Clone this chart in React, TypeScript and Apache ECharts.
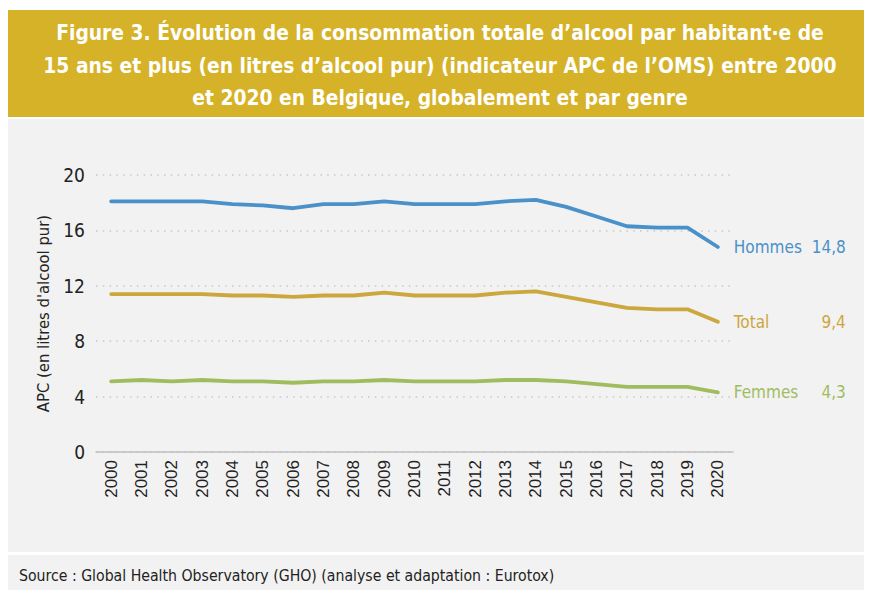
import React, { useEffect, useRef } from "react";
import * as echarts from "echarts";

const years = ["2000","2001","2002","2003","2004","2005","2006","2007","2008","2009","2010","2011","2012","2013","2014","2015","2016","2017","2018","2019","2020"];
const hommes = [18.1,18.1,18.1,18.1,17.9,17.8,17.6,17.9,17.9,18.1,17.9,17.9,17.9,18.1,18.2,17.7,17.0,16.3,16.2,16.2,14.8];
const total = [11.4,11.4,11.4,11.4,11.3,11.3,11.2,11.3,11.3,11.5,11.3,11.3,11.3,11.5,11.6,11.2,10.8,10.4,10.3,10.3,9.4];
const femmes = [5.1,5.2,5.1,5.2,5.1,5.1,5.0,5.1,5.1,5.2,5.1,5.1,5.1,5.2,5.2,5.1,4.9,4.7,4.7,4.7,4.3];
const seriesNames = ["Hommes", "Total", "Femmes"];
const seriesColors = ["#4A91C9", "#CBA73E", "#9FBD5E"];

const titleText = "Figure 3. Évolution de la consommation totale d’alcool par habitant·e de\n15 ans et plus (en litres d’alcool pur) (indicateur APC de l’OMS) entre 2000\net 2020 en Belgique, globalement et par genre";
const sourceText = "Source : Global Health Observatory (GHO) (analyse et adaptation : Eurotox)";
const yAxisName = "APC (en litres d'alcool pur)";

const NARROW = "'Liberation Sans Narrow', 'DejaVu Sans Condensed', sans-serif";
const fmt = (v: number) => v.toFixed(1).replace(".", ",");

export default function App() {
  const ref = useRef<HTMLDivElement>(null);
  useEffect(() => {
    if (!ref.current) return;
    const chart = echarts.init(ref.current, null, { renderer: "svg" });
    const data = [hommes, total, femmes];
    chart.setOption({
      animation: false,
      backgroundColor: "#ffffff",
      graphic: [
        { type: "rect", z: -10, shape: { x: 0, y: 2, width: 864, height: 107 }, style: { fill: "#D5B227" } },
        { type: "rect", z: -10, shape: { x: 0, y: 111, width: 864, height: 433 }, style: { fill: "#F2F2F2" } },
        { type: "rect", z: -10, shape: { x: 0, y: 547, width: 864, height: 35 }, style: { fill: "#F2F2F2" } },
      ],
      title: [
        {
          text: titleText,
          left: "center",
          top: 4,
          textStyle: { color: "#ffffff", fontSize: 20.8, fontWeight: "bold", fontFamily: NARROW, lineHeight: 32.5 },
        },
        {
          text: sourceText,
          left: 6,
          top: 554,
          textStyle: { color: "#222222", fontSize: 15.7, fontWeight: "normal", fontFamily: NARROW },
        },
      ],
      grid: { left: 88, right: 139, top: 167, bottom: 138 },
      xAxis: {
        type: "category",
        data: years,
        boundaryGap: true,
        axisLine: { lineStyle: { color: "#BFBFBF", width: 1.5 } },
        axisTick: { show: false },
        axisLabel: { rotate: 90, color: "#222222", fontSize: 17, fontFamily: "'Liberation Sans', Arial, sans-serif", margin: 8, interval: 0 },
      },
      yAxis: {
        type: "value",
        min: 0,
        max: 20,
        interval: 4,
        name: yAxisName,
        nameLocation: "middle",
        nameGap: 36,
        nameTextStyle: { color: "#222222", fontSize: 16.5, fontFamily: NARROW },
        axisLine: { show: false },
        axisTick: { show: false },
        axisLabel: { color: "#222222", fontSize: 19, fontFamily: NARROW, margin: 11 },
        splitLine: { lineStyle: { color: "#C8C8C8", width: 1.5, type: [1.5, 5.3] } },
      },
      series: seriesNames.map((name, i) => ({
        name,
        type: "line",
        data: data[i],
        symbol: "none",
        lineStyle: { color: seriesColors[i], width: 3.8, cap: "round", join: "round" },
        itemStyle: { color: seriesColors[i] },
        endLabel: {
          show: true,
          distance: 16,
          formatter: (p: any) => `{n|${p.seriesName}}{v|${fmt(p.value)}}`,
          rich: {
            n: { width: 75, color: seriesColors[i], fontSize: 17, fontFamily: NARROW, align: "left" },
            v: { width: 37, color: seriesColors[i], fontSize: 17, fontFamily: NARROW, align: "right" },
          },
        },
      })),
    });
    return () => chart.dispose();
  }, []);
  return <div ref={ref} style={{ width: 864, height: 582 }} />;
}
